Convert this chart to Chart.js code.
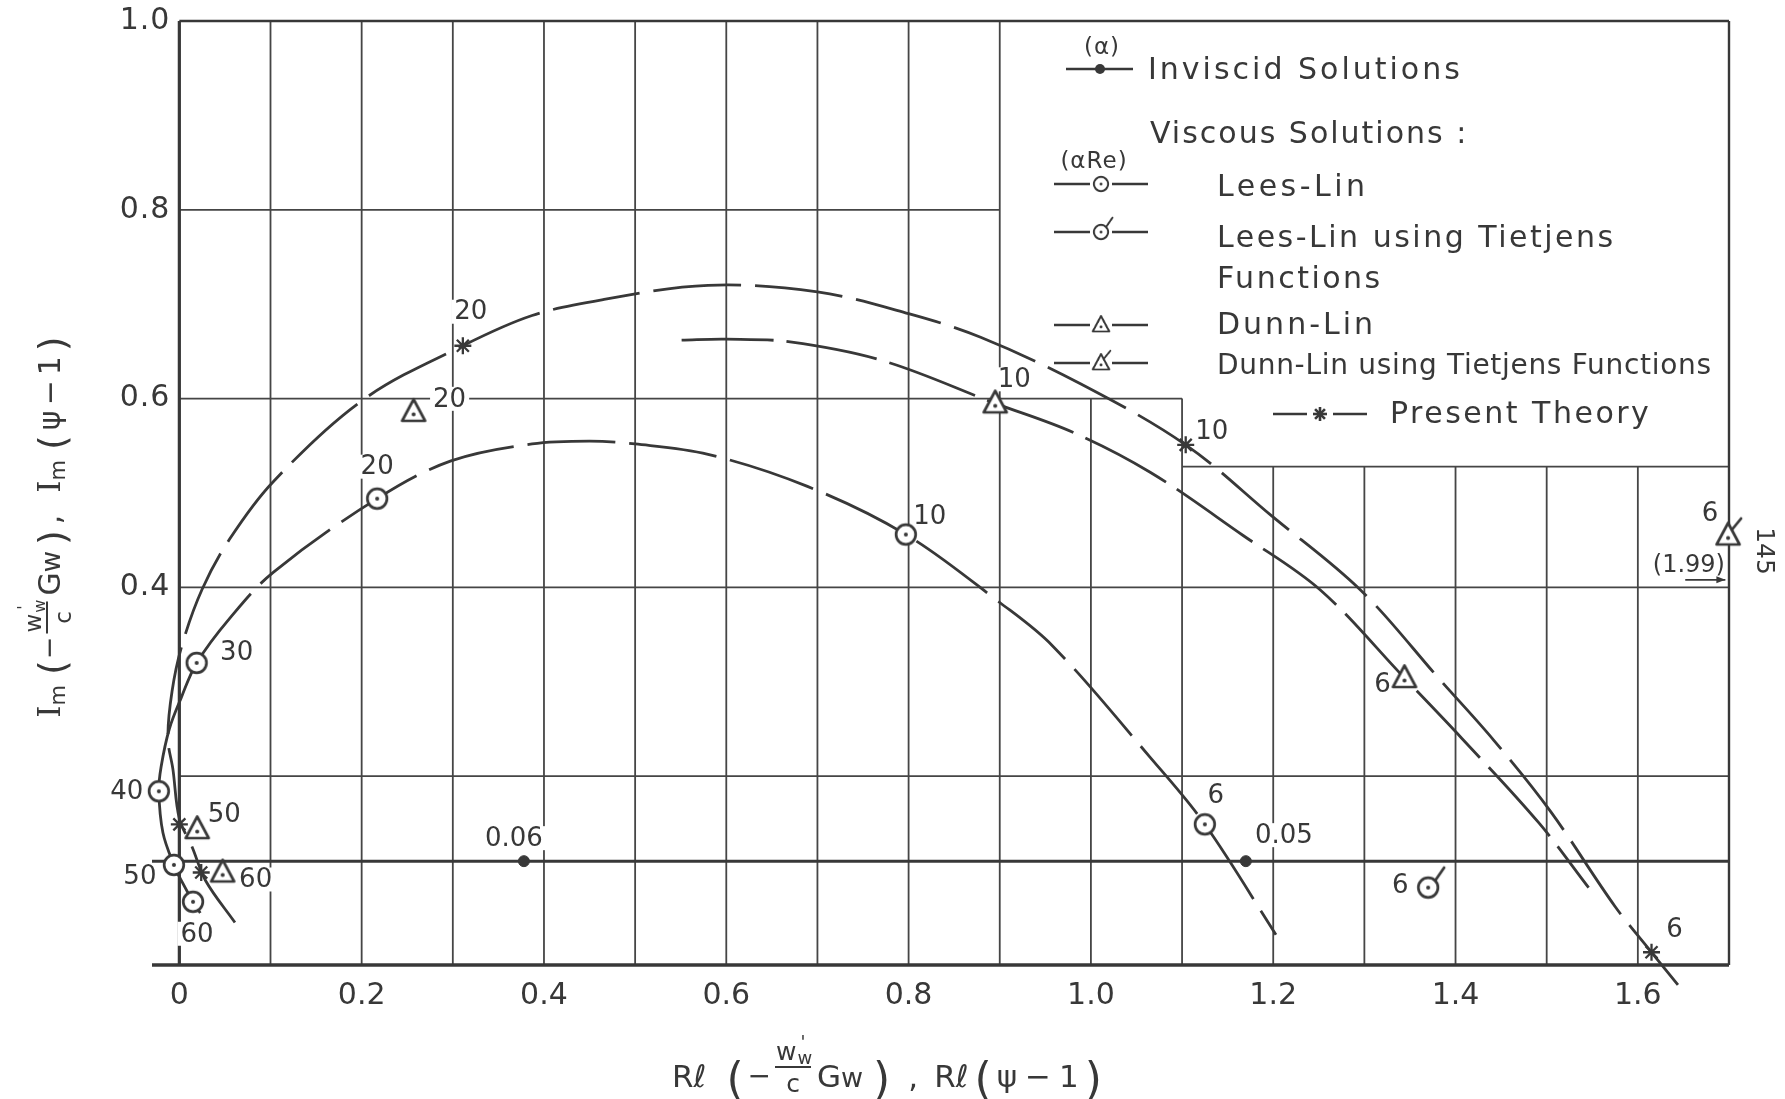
<!DOCTYPE html>
<html>
<head>
<meta charset="utf-8">
<title>Im vs Rl</title>
<script src="https://cdn.jsdelivr.net/npm/chart.js@4.4.1/dist/chart.umd.min.js"></script>
<style>
  html, body { margin: 0; padding: 0; background: #fff; }
  #wrap { width: 1785px; height: 1099px; }
</style>
</head>
<body>
<div id="wrap"><canvas id="c" width="1785" height="1099"></canvas></div>
<script>
// Im vs Rl of the wall quantity: inviscid vs viscous solutions (Lees-Lin, Dunn-Lin, present theory)
const FONT = "'DejaVu Sans', sans-serif";
const SERIF = "'DejaVu Serif', serif";
const INK = "#383838";

// axis ticks
const xTickValues = [0, 0.2, 0.4, 0.6, 0.8, 1.0, 1.2, 1.4, 1.6];
const xTickLabels = ["0", "0.2", "0.4", "0.6", "0.8", "1.0", "1.2", "1.4", "1.6"];
const yTickValues = [0.4, 0.6, 0.8, 1.0];
const yTickLabels = ["0.4", "0.6", "0.8", "1.0"];

// inviscid solutions (alpha)
const inviscidX = [0.378, 1.170];
const inviscidY = [0.11, 0.11];
const inviscidAlpha = ["0.06", "0.05"];
const inviscidLineX = [-0.03, 1.7];
const inviscidLineY = [0.11, 0.11];

// viscous solutions (alpha*Re)
const leesLinX = [0.015, -0.006, -0.0225, 0.019, 0.217, 0.797, 1.125];
const leesLinY = [0.067, 0.106, 0.184, 0.32, 0.494, 0.456, 0.149];
const leesLinRe = ["60", "50", "40", "30", "20", "10", "6"];

const leesLinTietjensX = [1.370];
const leesLinTietjensY = [0.082];
const leesLinTietjensRe = ["6"];

const dunnLinX = [0.0475, 0.0196, 0.257, 0.895, 1.344];
const dunnLinY = [0.098, 0.144, 0.586, 0.595, 0.304];
const dunnLinRe = ["60", "50", "20", "10", "6"];

const dunnLinTietjensX = [1.699];
const dunnLinTietjensY = [0.455];
const dunnLinTietjensRe = ["6"];

const presentX = [0.024, 0.0, 0.311, 1.104, 1.615];
const presentY = [0.098, 0.149, 0.656, 0.551, 0.0135];
const presentRe = ["", "", "20", "10", "6"];

// faired curves through the solutions
const leesLinCurveX = [0.023, 0.015, 0.003, -0.006, -0.018, -0.0225, -0.02, -0.011, 0.002, 0.019, 0.055, 0.103, 0.217, 0.298, 0.387, 0.45, 0.5, 0.58, 0.689, 0.797, 0.9, 0.958, 1.065, 1.125, 1.203];
const leesLinCurveY = [0.055, 0.067, 0.088, 0.106, 0.14, 0.184, 0.21, 0.25, 0.283, 0.32, 0.367, 0.416, 0.494, 0.534, 0.552, 0.555, 0.552, 0.541, 0.507, 0.456, 0.384, 0.338, 0.22, 0.149, 0.032];

const dunnLinCurveX = [0.551, 0.60, 0.67, 0.772, 0.895, 0.981, 1.065, 1.167, 1.252, 1.344, 1.407, 1.491, 1.546];
const dunnLinCurveY = [0.662, 0.663, 0.66, 0.64, 0.595, 0.564, 0.522, 0.455, 0.397, 0.304, 0.24, 0.151, 0.082];

const presentCurveX = [0.061, 0.029, 0.014, 0.0, -0.007, -0.0125, -0.008, 0.003, 0.025, 0.055, 0.103, 0.202, 0.311, 0.387, 0.466, 0.58, 0.70, 0.80, 0.879, 0.988, 1.104, 1.198, 1.296, 1.384, 1.442, 1.504, 1.575, 1.615, 1.644];
const presentCurveY = [0.045, 0.089, 0.125, 0.155, 0.207, 0.24, 0.29, 0.339, 0.398, 0.451, 0.512, 0.599, 0.656, 0.688, 0.705, 0.72, 0.713, 0.69, 0.665, 0.616, 0.551, 0.476, 0.397, 0.301, 0.238, 0.163, 0.062, 0.0135, -0.021];

// where the number sits next to each symbol (px from the symbol)
const leesLinTagPos = [[4, 32], [-34, 11], [-32, 0], [40, -11], [0, -32], [24, -18], [11, -29]];
const dunnLinTagPos = [[33, 7], [27, -15], [36, -13], [19, -24], [-22, 6]];
const presentTagPos = [null, null, [8, -34], [26, -14], [23, -23]];
const inviscidTagPos = [[-10, -23], [38, -26]];
const llTietjensTagPos = [[-28, -2]];
const dlTietjensTagPos = [[-18, -22]];

const pts = (xs, ys) => xs.map((x, i) => ({ x, y: ys[i] }));

function markerCanvas(shape, tick) {
  const s = 56, c = s / 2;
  const cv = document.createElement("canvas");
  cv.width = cv.height = s;
  const g = cv.getContext("2d");
  g.lineWidth = 2.7; g.strokeStyle = INK; g.lineJoin = "round"; g.lineCap = "round";
  g.beginPath();
  if (shape === "circle") g.arc(c, c, 9.8, 0, Math.PI * 2);
  else { g.moveTo(c, c - 12.5); g.lineTo(c + 11.5, c + 9); g.lineTo(c - 11.5, c + 9); g.closePath(); }
  g.fillStyle = "#fff"; g.fill(); g.stroke();
  if (tick) {
    g.beginPath();
    if (shape === "circle") { g.moveTo(c + 7, c - 7); g.lineTo(c + 16, c - 20); }
    else { g.moveTo(c + 4, c - 6); g.lineTo(c + 13, c - 17); }
    g.stroke();
  }
  g.fillStyle = INK;
  g.beginPath(); g.arc(c, shape === "circle" ? c : c + 2.5, 2, 0, Math.PI * 2); g.fill();
  return cv;
}
const mkCircle = markerCanvas("circle", false);
const mkCircleT = markerCanvas("circle", true);
const mkTri = markerCanvas("tri", false);
const mkTriT = markerCanvas("tri", true);

const curve = (label, xs, ys, extra) => Object.assign({
  label, data: pts(xs, ys), borderColor: INK, borderWidth: 2.8, borderDash: [88, 14],
  pointRadius: 0, tension: 0.35, fill: false, clip: 30,
}, extra);

const marks = (label, xs, ys, style, tags, tagPos, extra) => Object.assign({
  label, data: pts(xs, ys), showLine: false, pointStyle: style, pointRadius: 9,
  borderColor: INK, backgroundColor: "#fff", borderWidth: 2.2, tags, tagPos, clip: 30,
}, extra);

// grid, frame, y tick labels, note "(1.99)"
const gridPlugin = {
  id: "grid",
  beforeDatasetsDraw(chart) {
    const { ctx, scales: { x, y } } = chart;
    const X = (v) => x.getPixelForValue(v), Y = (v) => y.getPixelForValue(v);
    const seg = (x0, y0, x1, y1) => { ctx.beginPath(); ctx.moveTo(X(x0), Y(y0)); ctx.lineTo(X(x1), Y(y1)); ctx.stroke(); };
    ctx.save();
    ctx.strokeStyle = "#454545"; ctx.lineWidth = 1.8;
    for (let k = 1; k <= 16; k++) {
      const v = k / 10;
      const top = v <= 0.9 ? 1 : v <= 1.1 ? 0.6 : 0.528;
      seg(v, 0, v, top);
    }
    seg(0, 0.2, 1.7, 0.2);
    seg(0, 0.4, 1.7, 0.4);
    seg(0, 0.6, 1.1, 0.6);
    seg(0, 0.8, 0.9, 0.8);
    seg(1.1, 0.528, 1.7, 0.528);
    ctx.strokeStyle = INK;
    ctx.lineWidth = 2.4;
    seg(0, 1, 1.7, 1);
    seg(1.7, 0, 1.7, 1);
    ctx.lineWidth = 3.2;
    seg(0, 0, 0, 1);
    ctx.lineWidth = 3.6;
    seg(-0.03, 0, 1.7, 0);

    // y tick labels, right-aligned just left of the axis line
    ctx.fillStyle = INK;
    ctx.font = `30px ${FONT}`;
    ctx.letterSpacing = "1px";
    ctx.textAlign = "right"; ctx.textBaseline = "middle";
    y.ticks.forEach((t, i) => ctx.fillText(yTickLabels[i], X(0) - 9, Y(t.value)));
    ctx.letterSpacing = "0px";

    // off-scale value of the Dunn-Lin (Tietjens) point
    ctx.font = `24px ${FONT}`;
    ctx.textAlign = "center";
    ctx.fillText("(1.99)", X(1.656), Y(0.423));
    ctx.lineWidth = 1.6;
    const ay = Y(0.408);
    ctx.beginPath(); ctx.moveTo(X(1.652), ay); ctx.lineTo(X(1.696), ay); ctx.stroke();
    ctx.beginPath(); ctx.moveTo(X(1.696), ay); ctx.lineTo(X(1.696) - 9, ay - 3.5); ctx.lineTo(X(1.696) - 9, ay + 3.5); ctx.closePath(); ctx.fill();
    ctx.restore();
  },
};

// alpha / alpha*Re numbers beside the symbols, knocked out of the grid
const tagPlugin = {
  id: "tags",
  beforeDatasetsDraw(chart) {
    const { ctx } = chart;
    ctx.save();
    ctx.font = `26px ${FONT}`;
    ctx.textAlign = "center"; ctx.textBaseline = "middle";
    chart.data.datasets.forEach((ds, i) => {
      if (!ds.tags) return;
      chart.getDatasetMeta(i).data.forEach((p, j) => {
        const t = ds.tags[j], off = ds.tagPos[j];
        if (!t || !off) return;
        const tx = p.x + off[0], ty = p.y + off[1];
        const w = ctx.measureText(t).width;
        ctx.fillStyle = "#fff";
        ctx.fillRect(tx - w / 2 - 3, ty - 12, w + 6, 24);
        ctx.fillStyle = INK;
        ctx.fillText(t, tx, ty + 1);
      });
    });
    ctx.restore();
  },
};

function runs(ctx, items, x, base, dry) {
  for (const it of items) {
    if (it.frac) {
      if (!dry) drawFrac(ctx, x, base, it.frac);
      x += it.frac.w + (it.gap || 0);
      continue;
    }
    ctx.font = `${it.size}px ${it.serif ? SERIF : FONT}`;
    if (!dry) ctx.fillText(it.t, x, base + (it.dy || 0));
    x += ctx.measureText(it.t).width + (it.gap || 0);
  }
  return x;
}

// w'_w over c
function drawFrac(ctx, x, base, f) {
  ctx.save();
  ctx.lineWidth = 2;
  ctx.beginPath(); ctx.moveTo(x, base + f.bar); ctx.lineTo(x + f.w, base + f.bar); ctx.stroke();
  ctx.font = `${f.size}px ${FONT}`;
  const ww = ctx.measureText("w").width;
  ctx.fillText("w", x + 1, base + f.num);
  ctx.font = `${Math.round(f.size * 0.7)}px ${FONT}`;
  ctx.fillText("w", x + 2 + ww, base + f.num + 4);
  ctx.fillText("'", x + 5 + ww, base + f.num - 12);
  ctx.font = `${f.size}px ${FONT}`;
  const cw = ctx.measureText("c").width;
  ctx.fillText("c", x + (f.w - cw) / 2, base + f.den);
  ctx.restore();
}

const xTitle = [
  { t: "R\u2113", size: 31, gap: 20 },
  { t: "(", size: 44, dy: 7, gap: 4 },
  { t: "\u2212", size: 28, dy: -2, gap: 4 },
  { frac: { w: 36, bar: -20, num: -27, den: 5, size: 25 }, gap: 6 },
  { t: "G", size: 31 },
  { t: "w", size: 27, gap: 10 },
  { t: ")", size: 44, dy: 7, gap: 18 },
  { t: ",", size: 31, gap: 16 },
  { t: "R\u2113", size: 31, gap: 6 },
  { t: "(", size: 44, dy: 7, gap: 5 },
  { t: "\u03C8", size: 31, gap: 8 },
  { t: "\u2212", size: 31, gap: 8 },
  { t: "1", size: 31, gap: 6 },
  { t: ")", size: 44, dy: 7 },
];

const yTitle = [
  { t: "I", size: 31, serif: true },
  { t: "m", size: 21, dy: 5, gap: 10 },
  { t: "(", size: 38, dy: 5, gap: 1 },
  { t: "\u2212", size: 27, dy: -2, gap: 3 },
  { frac: { w: 32, bar: -13, num: -19, den: 11, size: 23 }, gap: 6 },
  { t: "G", size: 30 },
  { t: "w", size: 26, gap: 6 },
  { t: ")", size: 38, dy: 5, gap: 6 },
  { t: ",", size: 30, gap: 22 },
  { t: "I", size: 31, serif: true },
  { t: "m", size: 21, dy: 5, gap: 10 },
  { t: "(", size: 38, dy: 5, gap: 5 },
  { t: "\u03C8", size: 30, gap: 5 },
  { t: "\u2212", size: 30, gap: 5 },
  { t: "1", size: 30, gap: 5 },
  { t: ")", size: 38, dy: 5 },
];

// legend block in the cleared corner of the grid
const legendText = [
  { t: "(\u03B1)", x: 1102, y: 54, size: 23, sp: 1, align: "center" },
  { t: "Inviscid Solutions", x: 1148, y: 79, size: 30, sp: 3 },
  { t: "Viscous Solutions :", x: 1150, y: 143, size: 30, sp: 2 },
  { t: "(\u03B1Re)", x: 1094, y: 168, size: 23, sp: 1, align: "center" },
  { t: "Lees-Lin", x: 1217, y: 196, size: 30, sp: 3.5 },
  { t: "Lees-Lin using Tietjens", x: 1217, y: 247, size: 30, sp: 2.5 },
  { t: "Functions", x: 1217, y: 288, size: 30, sp: 2.5 },
  { t: "Dunn-Lin", x: 1217, y: 334, size: 30, sp: 3 },
  { t: "Dunn-Lin using Tietjens Functions", x: 1217, y: 374, size: 28, sp: 0.7 },
  { t: "Present Theory", x: 1390, y: 423, size: 30, sp: 2.5 },
];

const textPlugin = {
  id: "texts",
  afterDraw(chart) {
    const { ctx } = chart;
    ctx.save();
    ctx.fillStyle = INK; ctx.strokeStyle = INK;
    ctx.textBaseline = "alphabetic"; ctx.textAlign = "left";

    // axis titles
    let w = runs(ctx, xTitle, 0, 0, true);
    runs(ctx, xTitle, 887 - w / 2, 1087, false);
    ctx.save();
    ctx.translate(60, 527);
    ctx.rotate(-Math.PI / 2);
    w = runs(ctx, yTitle, 0, 0, true);
    runs(ctx, yTitle, -w / 2, 0, false);
    ctx.restore();

    // legend texts
    legendText.forEach((r) => {
      ctx.font = `${r.size}px ${FONT}`;
      ctx.letterSpacing = `${r.sp}px`;
      ctx.textAlign = r.align || "left";
      ctx.fillText(r.t, r.x, r.y);
    });
    ctx.letterSpacing = "0px";
    ctx.textAlign = "left";

    // legend samples
    ctx.lineWidth = 2.5;
    const dash = (x0, x1, yy) => { ctx.beginPath(); ctx.moveTo(x0, yy); ctx.lineTo(x1, yy); ctx.stroke(); };
    dash(1066, 1133, 69);
    ctx.beginPath(); ctx.arc(1100, 69, 5, 0, Math.PI * 2); ctx.fill();
    const sample = (img, yy) => {
      dash(1054, 1090, yy); dash(1112, 1148, yy);
      const k = 0.72, s = img.width * k;
      ctx.drawImage(img, 1101 - s / 2, yy - s / 2, s, s);
    };
    sample(mkCircle, 184);
    sample(mkCircleT, 232);
    sample(mkTri, 325);
    sample(mkTriT, 363);
    dash(1273, 1307, 414); dash(1333, 1367, 414);
    ctx.lineWidth = 2.6;
    for (let a = 0; a < 4; a++) {
      const t = (a * Math.PI) / 4;
      ctx.beginPath();
      ctx.moveTo(1320 - 7 * Math.cos(t), 414 - 7 * Math.sin(t));
      ctx.lineTo(1320 + 7 * Math.cos(t), 414 + 7 * Math.sin(t));
      ctx.stroke();
    }

    // page number
    ctx.translate(1763, 551);
    ctx.rotate(Math.PI / 2);
    ctx.font = `25px ${FONT}`;
    ctx.textAlign = "center"; ctx.textBaseline = "middle";
    ctx.fillText("145", 0, 0);
    ctx.restore();
  },
};

const datasets = [
  marks("Inviscid Solutions", inviscidX, inviscidY, "circle", inviscidAlpha, inviscidTagPos,
    { pointRadius: 5.5, backgroundColor: INK, borderWidth: 1 }),
  marks("Present Theory", presentX, presentY, "star", presentRe, presentTagPos,
    { pointRadius: 8.5, borderWidth: 2.3 }),
  marks("Lees-Lin", leesLinX, leesLinY, mkCircle, leesLinRe, leesLinTagPos),
  marks("Lees-Lin using Tietjens Functions", leesLinTietjensX, leesLinTietjensY, mkCircleT, leesLinTietjensRe, llTietjensTagPos),
  marks("Dunn-Lin", dunnLinX, dunnLinY, mkTri, dunnLinRe, dunnLinTagPos),
  marks("Dunn-Lin using Tietjens Functions", dunnLinTietjensX, dunnLinTietjensY, mkTriT, dunnLinTietjensRe, dlTietjensTagPos),
  curve("Present Theory curve", presentCurveX, presentCurveY),
  curve("Dunn-Lin curve", dunnLinCurveX, dunnLinCurveY, { borderDash: [92, 13] }),
  curve("Lees-Lin curve", leesLinCurveX, leesLinCurveY, {
    segment: { borderDash: (c) => (c.p0.parsed.y < 0.3 && c.p0.parsed.x < 0.05 ? [] : undefined) },
  }),
  curve("Inviscid line", inviscidLineX, inviscidLineY, { borderDash: [], borderWidth: 3, tension: 0 }),
];

new Chart(document.getElementById("c"), {
  type: "line",
  data: { datasets },
  options: {
    responsive: false,
    animation: false,
    events: [],
    devicePixelRatio: 1,
    layout: { padding: { left: 0, top: 21, right: 56, bottom: 0 }, autoPadding: false },
    plugins: { legend: { display: false }, tooltip: { enabled: false } },
    scales: {
      x: {
        type: "linear", min: -0.03, max: 1.7,
        grid: { display: false, drawTicks: false }, border: { display: false },
        afterBuildTicks: (s) => { s.ticks = xTickValues.map((v) => ({ value: v })); },
        afterFit: (s) => { s.height = 134; },
        ticks: {
          padding: 13, color: INK, maxRotation: 0, autoSkip: false,
          font: { family: FONT, size: 30 },
          callback: (v, i) => xTickLabels[i],
        },
      },
      y: {
        type: "linear", min: 0, max: 1,
        grid: { display: false, drawTicks: false }, border: { display: false },
        afterBuildTicks: (s) => { s.ticks = yTickValues.map((v) => ({ value: v })); },
        afterFit: (s) => { s.width = 152; },
        ticks: { display: false },
      },
    },
  },
  plugins: [gridPlugin, tagPlugin, textPlugin],
});
</script>
</body>
</html>
